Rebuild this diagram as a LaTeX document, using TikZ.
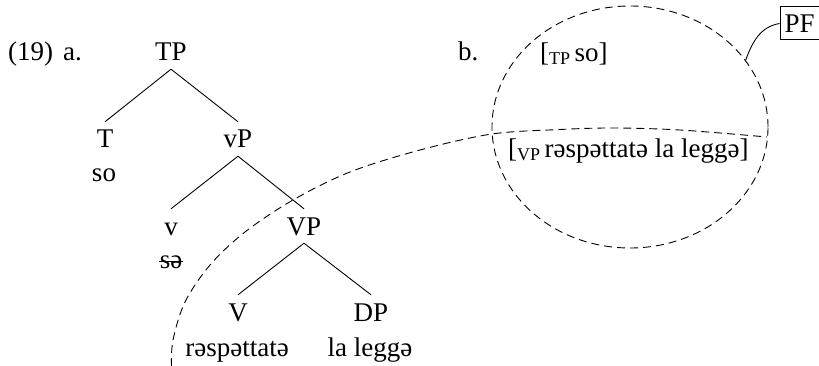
\documentclass[tikz,border=0pt]{standalone}
\usepackage{fontspec}
\setmainfont{Liberation Serif}
\usetikzlibrary{shapes.geometric}
\begin{document}
\begin{tikzpicture}[x=1pt, y=-1pt,
  every node/.style={font=\fontsize{27pt}{32pt}\selectfont, inner sep=0pt},
  cat/.style={text height=18pt, text depth=0pt, inner xsep=0pt, inner ysep=8pt, anchor=base},
  word/.style={anchor=base},
  label/.style={anchor=base west},
  branch/.style={line width=0.9pt},
  spellout/.style={line width=0.9pt, dash pattern=on 8pt off 5pt},
  sub/.style={}]
\useasboundingbox (0,0) rectangle (819,366);

% example number and sub-labels
\node[label] (exnum) at (8,61) {(19)};
\node[label] (parta) at (63,61) {a.};
\node[label] (partb) at (458,61) {b.};

% tree (a)
\node[cat] (TP) at (171,61) {TP};
\node[cat] (T)  at (105,148) {T};
\node[cat] (vP) at (238,148) {vP};
\node[word] (so) at (104,182) {so};
\node[cat] (v)  at (171,235) {v};
\node[cat] (VP) at (304,235) {VP};
\node[word] (sv) at (171,268) {sə};
\node[cat] (V)  at (238,321) {V};
\node[cat] (DP) at (371,321) {DP};
\node[word] (verb) at (237,356) {rəspəttatə};
\node[word] (obj)  at (370,356) {la leggə};

\draw[branch] (TP.south) -- (T.north);
\draw[branch] (TP.south) -- (vP.north);
\draw[branch] (vP.south) -- (v.north);
\draw[branch] (vP.south) -- (VP.north);
\draw[branch] (VP.south) -- (V.north);
\draw[branch] (VP.south) -- (DP.north);

% deleted copy of the verb
\draw[line width=1pt] ([xshift=-0.5pt,yshift=7pt]sv.base west) -- ([xshift=0.5pt,yshift=7pt]sv.base east);

% PF domain (b)
\node[draw, ellipse, spellout, minimum width=276pt, minimum height=242pt] (pfzone) at (630,127) {};
\node[label] (tpso) at (540,62)
  {[\raisebox{-2.5pt}{\fontsize{18pt}{20pt}\selectfont TP}\,so]};
\node[label] (vpstr) at (508,158)
  {[\raisebox{-2.5pt}{\fontsize{18pt}{20pt}\selectfont VP}\,rəspəttatə la leggə]};

% spell-out boundary of the VP
\draw[spellout] plot[smooth, tension=0.55] coordinates {
  (171.5,366) (173,340) (185,302) (210,265) (245,232) (293,200)
  (350,172) (420,150) (492,134) (560,129.5) (613,128) (680,130) (767,137)};

% PF label and its pointer
\node[draw, line width=1pt, text height=18pt, text depth=0pt, inner xsep=4.5pt, inner ysep=7.5pt, anchor=west] (pf) at (779.5,23.5) {PF};
\draw[line width=0.9pt] (pf.west) to[out=190, in=70] (pfzone.30);
\end{tikzpicture}
\end{document}
